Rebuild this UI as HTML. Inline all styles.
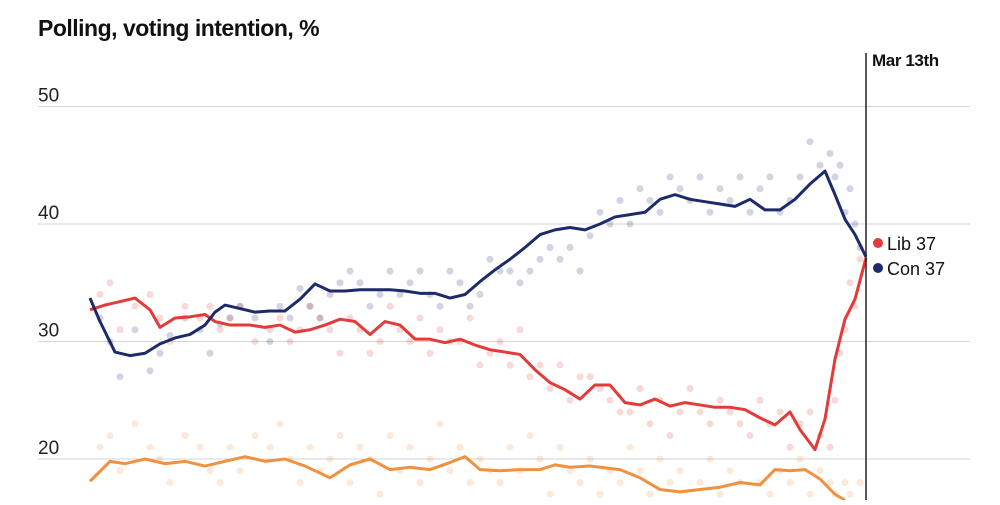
<!DOCTYPE html>
<html><head><meta charset="utf-8"><style>
body{margin:0;background:#fff;width:1000px;height:500px;overflow:hidden;font-family:"Liberation Sans Narrow","Liberation Sans",sans-serif}
</style></head><body>
<svg width="1000" height="500" xmlns="http://www.w3.org/2000/svg">
<text x="38" y="36" font-size="23" font-weight="bold" fill="#111" letter-spacing="-0.5">Polling, voting intention, %</text>
<g id="grid"></g><g id="dots"></g><g id="lines"></g>
<line x1="866" y1="53" x2="866" y2="500" stroke="#222" stroke-width="1.5"/>
<text x="872" y="66" font-size="17" font-weight="bold" fill="#111" letter-spacing="-0.4">Mar 13th</text>
<circle cx="878" cy="243" r="5" fill="#e33a3a"/>
<text x="887" y="250" font-size="18" fill="#111">Lib 37</text>
<circle cx="878" cy="268" r="5" fill="#1d2a6b"/>
<text x="887" y="275" font-size="18" fill="#111">Con 37</text>
</svg>
<script>
const ticks=[20,30,40,50];
const conDays=[0,10,25,40,55,70,85,100,115,125,135,150,165,180,195,210,225,240,255,270,285,300,315,330,345,360,375,390,405,420,435,450,465,480,495,510,525,540,555,570,585,600,615,630,645,660,675,690,705,720,735,745,755,765,776];
const conVals=[33.7,31.7,29.1,28.8,29,29.8,30.3,30.6,31.4,32.5,33.1,32.8,32.5,32.6,32.6,33.6,34.9,34.3,34.3,34.4,34.4,34.4,34.3,34.1,34.1,33.7,34,35.1,36.1,37,38,39.1,39.5,39.7,39.5,40,40.6,40.8,41,42.1,42.5,42.1,41.9,41.7,41.5,42.1,41.2,41.2,42.1,43.4,44.5,42.5,40.4,39.1,37.2];
const libDays=[0,15,30,45,60,70,85,100,115,125,140,160,175,190,205,220,235,250,265,280,295,310,325,340,355,370,385,400,415,430,445,460,475,490,505,520,535,550,565,580,595,610,625,640,655,670,685,700,710,725,735,745,755,765,776];
const libVals=[32.7,33.1,33.4,33.7,32.7,31.2,32,32.1,32.3,31.7,31.4,31.4,31.2,31.4,30.8,31,31.4,31.9,31.7,30.6,31.7,31.4,30.2,30.2,29.9,30.2,29.7,29.3,29.1,28.9,27.6,26.5,25.9,25.1,26.3,26.3,24.8,24.6,25.1,24.5,24.8,24.6,24.4,24.4,24.2,23.5,22.9,24,22.5,20.8,23.4,28.5,31.9,33.6,37.1];
const grnDays=[0,20,35,55,75,95,115,135,155,175,195,215,240,260,280,300,320,340,360,375,390,410,430,450,465,480,500,530,550,570,590,610,630,650,670,685,700,715,730,745,755];
const grnVals=[18.1,19.8,19.6,20,19.6,19.8,19.4,19.8,20.2,19.8,20,19.4,18.4,19.5,20,19.1,19.3,19.1,19.7,20.2,19.1,19,19.1,19.1,19.5,19.3,19.4,19.1,18.4,17.4,17.2,17.4,17.6,18,17.8,19.1,19,19.1,18.3,17,16.5];
const pollDays=[10,20,30,45,60,70,80,95,110,120,130,140,150,165,180,190,200,210,220,230,240,250,260,270,280,290,300,310,320,330,340,350,360,370,380,390,400,410,420,430,440,450,460,470,480,490,500,510,520,530,540,550,560,570,580,590,600,610,620,630,640,650,660,670,680,690,700,710,720,730,740,745,750,755,760,765,770];
const conPollVals=[32,30,27,31,27.5,29,30.5,32,31,29,31.5,32,33,32,30,33,32,34.5,33,32,34,35,36,35,33,34,36,34,35,36,34,33,36,35,33,34,37,36,36,35,36,37,38,37,38,36,39,41,40,42,40,43,42,41,44,43,42,44,41,43,42,44,41,43,44,41,42,44,47,45,46,44,45,41,43,40,38];
const libPollVals=[34,35,31,33,34,32,30,33,32,33,31,32,33,30,31,32,30,31,33,32,31,29,32,31,29,30,33,31,30,32,29,31,30,30,32,28,29,30,28,31,27,28,26,28,25,27,27,26,25,24,24,26,23,25,22,24,26,24,23,25,24,23,22,25,23,24,21,23,24,22,21,25,29,31,35,33,37];
const grnPollVals=[21,22,19,23,21,20,18,22,21,19,18,21,19,22,21,23,20,18,21,19,20,22,18,21,20,17,22,19,21,18,20,23,19,21,18,20,19,18,21,19,22,20,17,21,19,18,20,17,19,18,21,19,17,20,18,19,16,18,20,17,19,18,16,18,17,19,18,20,17,19,18,17,16,18,17,16,18];
const x=d=>90+d, y=v=>459-(v-20)*11.75;
const ns="http://www.w3.org/2000/svg";
const grid=document.getElementById('grid');
ticks.forEach(t=>{
 const l=document.createElementNS(ns,'line');
 l.setAttribute('x1',38);l.setAttribute('x2',970);l.setAttribute('y1',y(t));l.setAttribute('y2',y(t));
 l.setAttribute('stroke','#d4d4d4');l.setAttribute('stroke-width','1');
 
 
 grid.appendChild(l);
 const tx=document.createElementNS(ns,'text');
 tx.setAttribute('x',38);tx.setAttribute('y',y(t)-5);tx.setAttribute('font-size','19');tx.setAttribute('fill','#222');
 tx.setAttribute('font-family','Liberation Sans, sans-serif');
 tx.textContent=t;
 
 
 grid.appendChild(tx);
});
const dots=document.getElementById('dots');
function addDots(ds,vs,col,name){ds.forEach((d,i)=>{
 const c=document.createElementNS(ns,'circle');
 c.setAttribute('cx',x(d));c.setAttribute('cy',y(vs[i]));c.setAttribute('r',3.5);c.setAttribute('fill',col);c.setAttribute('opacity','0.2');
 
 
 dots.appendChild(c);});}
addDots(pollDays,grnPollVals,'#f0913f','poll-dot-other');
addDots(pollDays,libPollVals,'#e33a3a','poll-dot-lib');
addDots(pollDays,conPollVals,'#1d2a6b','poll-dot-con');
const lines=document.getElementById('lines');
function addLine(ds,vs,col,name){
 const p=document.createElementNS(ns,'polyline');
 p.setAttribute('points',ds.map((d,i)=>x(d)+','+y(vs[i])).join(' '));
 p.setAttribute('fill','none');p.setAttribute('stroke',col);p.setAttribute('stroke-width','3');p.setAttribute('stroke-linejoin','round');
 
 
 lines.appendChild(p);}
addLine(grnDays,grnVals,'#f0913f','line-other');
addLine(libDays,libVals,'#e33a3a','line-lib');
addLine(conDays,conVals,'#1d2a6b','line-con');
</script>
</body></html>
